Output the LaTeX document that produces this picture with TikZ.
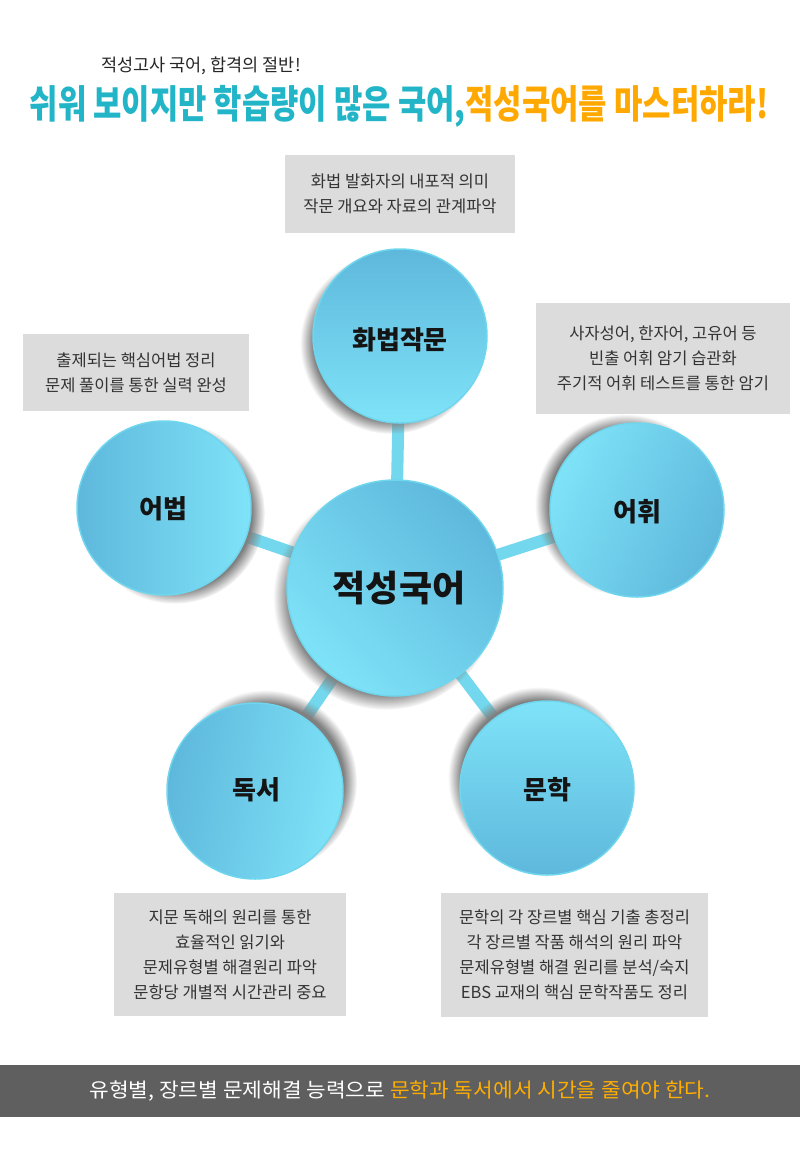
\documentclass[tikz,border=0pt]{standalone}
\usepackage{fontspec}
\setmainfont{Noto Sans CJK KR}
\usetikzlibrary{shadows,backgrounds}
\definecolor{titleteal}{HTML}{22B5C8}
\definecolor{titleorange}{HTML}{FFA800}
\definecolor{boxgray}{HTML}{DCDCDC}
\definecolor{boxtext}{HTML}{333333}
\definecolor{bargray}{HTML}{5F5F5F}
\definecolor{barorange}{HTML}{FFAE00}
\definecolor{bublight}{HTML}{7FE3F8}
\definecolor{bubdark}{HTML}{5EB8DC}
\definecolor{bubrim}{HTML}{6FD6EE}
\definecolor{connector}{HTML}{73D8ED}
\tikzset{
  infobox/.style={fill=boxgray, text=boxtext, align=center, inner sep=0pt,
    font=\fontsize{16.5}{25}\selectfont},
  bubble/.style={circle, shading=axis, top color=bubdark, bottom color=bublight,
    draw=bubrim, line width=1.5pt, inner sep=0pt},
  link/.style={connector, line width=12pt},
  circtxt/.style={text=black!92, inner sep=0pt, font=\bfseries\fontsize{26}{28}\selectfont},
}
\begin{document}
\begin{tikzpicture}[x=1pt,y=-1pt]
\useasboundingbox (0,0) rectangle (800,1149);
\begin{scope}[on background layer]
  \fill[white] (0,0) rectangle (800,1149);
\end{scope}

% titles
\node[inner sep=0pt, font=\fontsize{17.5}{19}\selectfont, text=black!85] (sub) at (201,66) {적성고사 국어, 합격의 절반!};
\node[inner sep=0pt, font=\bfseries\fontsize{39}{41}\selectfont, xscale=0.79] (title) at (399,106)
  {\textcolor{titleteal}{쉬워 보이지만 학습량이 많은 국어,}\textcolor{titleorange}{적성국어를 마스터하라!}};

% info boxes
\node[infobox, minimum width=230pt, minimum height=78pt] (b1) at (400,194)
  {화법 발화자의 내포적 의미\\작문 개요와 자료의 관계파악};
\node[infobox, minimum width=254pt, minimum height=111pt] (b2) at (663,358.5)
  {사자성어, 한자어, 고유어 등\\빈출 어휘 암기 습관화\\주기적 어휘 테스트를 통한 암기};
\node[infobox, minimum width=226pt, minimum height=77pt] (b3) at (136,372.5)
  {출제되는 핵심어법 정리\\문제 풀이를 통한 실력 완성};
\node[infobox, minimum width=232pt, minimum height=123pt] (b4) at (230,954.5)
  {지문 독해의 원리를 통한\\효율적인 읽기와\\문제유형별 해결원리 파악\\문항당 개별적 시간관리 중요};
\node[infobox, minimum width=267pt, minimum height=124pt] (b5) at (574.5,955)
  {문학의 각 장르별 핵심 기출 총정리\\각 장르별 작품 해석의 원리 파악\\문제유형별 해결 원리를 분석/숙지\\EBS 교재의 핵심 문학작품도 정리};

% bubbles
\node[bubble, minimum size=174pt, shading angle=0,
  circular drop shadow={shadow xshift=-9pt, shadow yshift=-7pt, opacity=1, shadow scale=1.04}] (hw) at (400,336) {};
\node[bubble, minimum size=174pt, shading angle=-115,
  circular drop shadow={shadow xshift=-11pt, shadow yshift=5pt, opacity=1, shadow scale=1.04}] (eh) at (637,510) {};
\node[bubble, minimum size=174pt, shading angle=90,
  circular drop shadow={shadow xshift=10pt, shadow yshift=-5pt, opacity=1, shadow scale=1.04}] (eb) at (164,508) {};
\node[bubble, minimum size=176pt, shading angle=80,
  circular drop shadow={shadow xshift=10pt, shadow yshift=9pt, opacity=1, shadow scale=1.04}] (ds) at (255,791) {};
\node[bubble, minimum size=174pt, shading angle=180,
  circular drop shadow={shadow xshift=-8pt, shadow yshift=10pt, opacity=1, shadow scale=1.04}] (mh) at (547,788) {};
\node[bubble, minimum size=216pt, shading angle=-45,
  circular drop shadow={shadow xshift=-9pt, shadow yshift=-9pt, opacity=1, shadow scale=1.04}] (ce) at (395,588) {};

% connectors
\begin{scope}[on background layer]
  \draw[link] (ce.center) -- (hw.center);
  \draw[link] (ce.center) -- (eh.center);
  \draw[link] (ce.center) -- (eb.center);
  \draw[link] (ce.center) -- (ds.center);
  \draw[link] (ce.center) -- (mh.center);
\end{scope}

% labels
\node[circtxt, font=\bfseries\fontsize{36}{38}\selectfont] (lce) at (399,588) {적성국어};
\node[circtxt] (lhw) at (400,340) {화법작문};
\node[circtxt] (leh) at (637,512) {어휘};
\node[circtxt] (leb) at (163,509) {어법};
\node[circtxt] (lds) at (256,790) {독서};
\node[circtxt] (lmh) at (547,790) {문학};

% bottom bar
\fill[bargray] (0,1065) rectangle (800,1117);
\node[inner sep=0pt, font=\fontsize{20}{22}\selectfont, xscale=1.07] (bottom) at (400,1091)
  {\textcolor{white}{유형별, 장르별 문제해결 능력으로 }\textcolor{barorange}{문학과 독서에서 시간을 줄여야 한다.}};
\end{tikzpicture}
\end{document}
